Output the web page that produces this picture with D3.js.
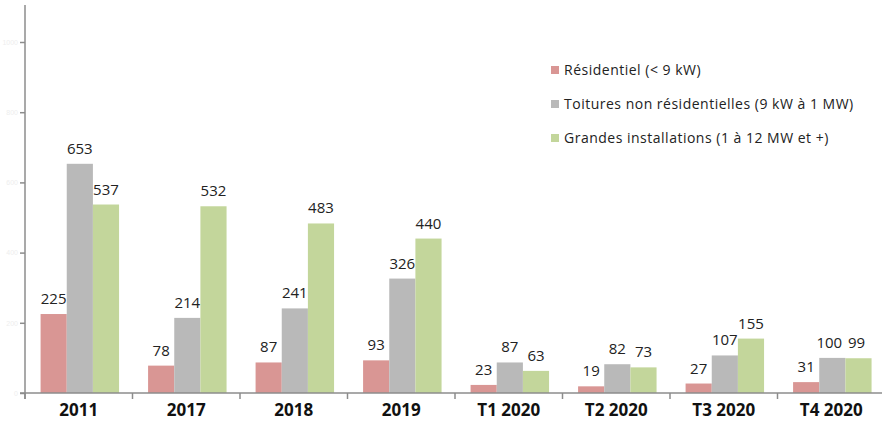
<!DOCTYPE html>
<html>
<head>
<meta charset="utf-8">
<script src="https://cdn.jsdelivr.net/npm/d3@7"></script>
<style>
  body { margin: 0; background: #fff; }
  svg { display: block; font-family: "Open Sans", "Liberation Sans", sans-serif; }
</style>
</head>
<body>
<div id="chart"></div>
<script>
// data
var categories = ["2011", "2017", "2018", "2019", "T1 2020", "T2 2020", "T3 2020", "T4 2020"];
var series = ["Résidentiel (< 9 kW)", "Toitures non résidentielles (9 kW à 1 MW)", "Grandes installations (1 à 12 MW et +)"];
var residentiel = [225, 78, 87, 93, 23, 19, 27, 31];
var toitures = [653, 214, 241, 326, 87, 82, 107, 100];
var grandes = [537, 532, 483, 440, 63, 73, 155, 99];
var yTicks = [0, 200, 400, 600, 800, 1000];

var colours = ["#d99694", "#b9b9b9", "#c3d69b"];
var values = [residentiel, toitures, grandes];

var W = 882, H = 430;
var svg = d3.select("#chart").append("svg")
  .attr("width", W)
  .attr("height", H);

var x0 = d3.scaleBand().domain(categories).range([25, 885]).padding(0);
var bw = x0.bandwidth();
var x1 = d3.scaleBand().domain(d3.range(series.length)).range([bw * 0.145, bw * 0.875]);
var y = d3.scaleLinear().domain([0, 1000]).range([393, 42]);

// bars
var groups = svg.selectAll(".grp")
  .data(categories)
  .enter().append("g")
  .attr("class", "grp")
  .attr("transform", function(d) { return "translate(" + x0(d) + ",0)"; });

groups.each(function(cat, ci) {
  var g = d3.select(this);
  values.forEach(function(vals, si) {
    g.append("rect")
      .attr("x", x1(si))
      .attr("width", x1.bandwidth())
      .attr("y", y(vals[ci]))
      .attr("height", y(0) - y(vals[ci]))
      .attr("fill", colours[si]);
  });
});

// value labels
groups.each(function(cat, ci) {
  var g = d3.select(this);
  values.forEach(function(vals, si) {
    var lx = x1(si) + x1.bandwidth() / 2;
    // the two close values of T4 2020 sit a bit apart in the source
    if (cat == "T4 2020" && si == 1) lx -= 3;
    if (cat == "T4 2020" && si == 2) lx -= 2;
    g.append("text")
      .attr("x", lx)
      .attr("y", y(vals[ci]) - 10)
      .attr("text-anchor", "middle")
      .attr("font-size", 15)
      .attr("fill", "#222")
      .text(vals[ci]);
  });
});

// y axis (labels are almost washed out in the source)
var yAxis = d3.axisLeft(y).tickValues(yTicks).tickSize(5).tickPadding(2).tickFormat(d3.format("d"));
var gy = svg.append("g")
  .attr("transform", "translate(25,0)")
  .call(yAxis);
gy.select(".domain").remove();
gy.selectAll(".tick line").attr("stroke", "#8c8c8c").attr("stroke-width", 1.5);
gy.selectAll(".tick text").attr("fill", "#eeeeee").attr("font-size", 7);
svg.append("line")
  .attr("x1", 25).attr("x2", 25)
  .attr("y1", 5).attr("y2", 399)
  .attr("stroke", "#8c8c8c").attr("stroke-width", 1.5);

// x axis
svg.append("line")
  .attr("x1", 20).attr("x2", 882)
  .attr("y1", y(0)).attr("y2", y(0))
  .attr("stroke", "#8c8c8c").attr("stroke-width", 1.5);
svg.selectAll(".xtick")
  .data(categories)
  .enter().append("line")
  .attr("class", "xtick")
  .attr("x1", function(d) { return x0(d); })
  .attr("x2", function(d) { return x0(d); })
  .attr("y1", y(0)).attr("y2", y(0) + 6)
  .attr("stroke", "#8c8c8c").attr("stroke-width", 1.5);

svg.selectAll(".xlab")
  .data(categories)
  .enter().append("text")
  .attr("class", "xlab")
  .attr("x", function(d) { return x0(d) + bw / 2; })
  .attr("y", 416)
  .attr("text-anchor", "middle")
  .attr("font-size", 17)
  .attr("font-weight", "bold")
  .attr("fill", "#111")
  .text(function(d) { return d; });

// legend
var legend = svg.append("g").attr("transform", "translate(551,70)");
series.forEach(function(s, i) {
  var row = legend.append("g").attr("transform", "translate(0," + (i * 34) + ")");
  row.append("rect")
    .attr("x", 0).attr("y", -4)
    .attr("width", 8).attr("height", 8)
    .attr("fill", colours[i]);
  row.append("text")
    .attr("x", 13).attr("y", 0)
    .attr("dy", "0.35em")
    .attr("font-size", 14)
    .attr("letter-spacing", 0.5)
    .attr("fill", "#222")
    .text(s);
});
</script>
</body>
</html>
